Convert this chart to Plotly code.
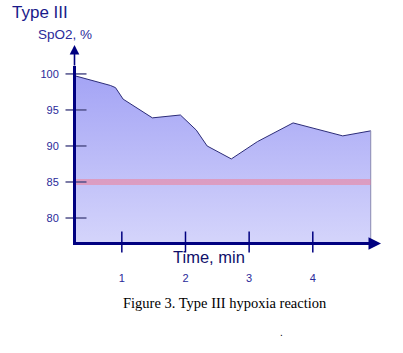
import plotly.graph_objects as go

# data
time_min = [0.28, 0.45, 0.82, 0.90, 1.02, 1.48, 1.92, 2.17, 2.34, 2.72, 3.13, 3.69, 4.47, 4.91]
spo2 = [99.7, 99.3, 98.4, 98.1, 96.5, 93.9, 94.3, 92.2, 90.0, 88.2, 90.6, 93.2, 91.4, 92.1]
threshold = 85
x_ticks = [1, 2, 3, 4]
y_ticks = [80, 85, 90, 95, 100]

X_MIN, X_MAX = 0.28, 4.93
Y_MIN, Y_MAX = 76.67, 101.1
NAVY = "#000080"
LBL = "#2a2a9a"

fig = go.Figure()
# baseline for fill
fig.add_trace(go.Scatter(x=[time_min[0], time_min[-1]], y=[Y_MIN, Y_MIN], mode="lines",
                         line=dict(width=0), hoverinfo="skip", showlegend=False))
fig.add_trace(go.Scatter(x=time_min, y=spo2, mode="lines", fill="tonexty",
                         line=dict(color="#2c2c78", width=1),
                         fillgradient=dict(type="vertical",
                                           colorscale=[[0, "#d4d4fb"], [1, "#a4a4f5"]]),
                         showlegend=False))
# right edge of area
fig.add_trace(go.Scatter(x=[time_min[-1], time_min[-1]], y=[Y_MIN, spo2[-1]], mode="lines",
                         line=dict(color="#8a8ab0", width=1), showlegend=False))
# threshold band
fig.add_trace(go.Scatter(x=[time_min[0], time_min[-1]], y=[threshold, threshold], mode="lines",
                         line=dict(color="rgba(240,125,150,0.55)", width=6), showlegend=False))
# tick marks crossing axes
fig.add_trace(go.Scatter(x=[X_MIN] * len(y_ticks), y=y_ticks, mode="markers", cliponaxis=False,
                         marker=dict(symbol="line-ew", size=15, line=dict(color="#50508a", width=1.5)),
                         showlegend=False))
fig.add_trace(go.Scatter(x=x_ticks, y=[Y_MIN] * len(x_ticks), mode="markers", cliponaxis=False,
                         marker=dict(symbol="line-ns", size=15, line=dict(color=NAVY, width=1.5)),
                         showlegend=False))

fig.update_layout(
    width=403, height=353, margin=dict(l=0, r=0, t=0, b=0),
    paper_bgcolor="white", plot_bgcolor="white",
    font=dict(family="Liberation Sans, Arial", color=LBL),
    xaxis=dict(domain=[76 / 403, 372 / 403], range=[X_MIN, X_MAX], showgrid=False, zeroline=False,
               showline=True, linewidth=3, linecolor=NAVY, tickvals=x_ticks, ticks="",
               ticklabelstandoff=24, tickfont=dict(size=11, color=LBL)),
    yaxis=dict(domain=[(353 - 242) / 353, (353 - 66) / 353], range=[Y_MIN, Y_MAX], showgrid=False,
               zeroline=False, showline=True, linewidth=3, linecolor=NAVY, tickvals=y_ticks,
               ticks="", ticklabelstandoff=12, tickfont=dict(size=11, color=LBL)),
    annotations=[
        dict(x=74.5 / 403, y=1 - 45 / 353, xref="paper", yref="paper", ax=0, ay=22, text="", showarrow=True,
             arrowhead=2, arrowsize=1.2, arrowwidth=1.6, arrowcolor=NAVY),
        dict(x=381 / 403, y=1 - 243.5 / 353, xref="paper", yref="paper", ax=-12, ay=0, text="", showarrow=True,
             arrowhead=2, arrowsize=1.0, arrowwidth=2.5, arrowcolor=NAVY),
        dict(x=10 / 403, y=1 - 12 / 353, xref="paper", yref="paper", xanchor="left", yanchor="middle",
             text="Type III", showarrow=False, font=dict(size=17, color="#1a1a8a")),
        dict(x=65 / 403, y=1 - 34 / 353, xref="paper", yref="paper", xanchor="center", yanchor="middle",
             text="SpO2, %", showarrow=False, font=dict(size=13.5, color=LBL)),
        dict(x=209 / 403, y=1 - 257 / 353, xref="paper", yref="paper", xanchor="center", yanchor="middle",
             text="Time, min", showarrow=False, font=dict(size=16.5, color="#10106a")),
        dict(x=225 / 403, y=1 - 303 / 353, xref="paper", yref="paper", xanchor="center", yanchor="middle",
             text="Figure 3. Type III hypoxia reaction", showarrow=False,
             font=dict(family="Liberation Serif, Times New Roman", size=14.5, color="black")),
        dict(x=281 / 403, y=1 - 332 / 353, xref="paper", yref="paper", xanchor="center", yanchor="middle",
             text=".", showarrow=False, font=dict(size=10, color="black")),
    ],
)

fig.write_html("out.html", config={"displayModeBar": False})
